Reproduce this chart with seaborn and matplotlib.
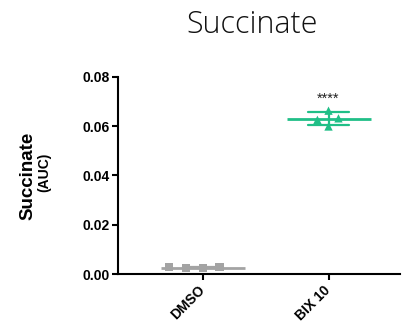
import matplotlib
matplotlib.use("Agg")
import matplotlib.pyplot as plt
import seaborn as sns
import pandas as pd

# 数据
groups = ["DMSO", "BIX 10"]
dmso_vals = [0.0025, 0.0029, 0.0026, 0.0028]
bix_vals = [0.0631, 0.0598, 0.0662, 0.0625]
colors = ["#A3A3A3", "#20BF87"]
stars = "****"

df = pd.DataFrame({
    "group": [groups[0]] * len(dmso_vals) + [groups[1]] * len(bix_vals),
    "val": dmso_vals + bix_vals,
})

sns.set_style("ticks")
plt.rcParams["font.family"] = ["Liberation Sans", "DejaVu Sans"]

fig = plt.figure(figsize=(4.03, 3.36), dpi=100)
ax = fig.add_axes([0.293, 0.184, 0.70, 0.588])

# 散点 (swarm 排布, 透明边框用来拉开间距)
for g, m, c, lw in zip(groups, ["s", "^"], colors, [5.5, 3]):
    sub = df[df.group == g]
    sns.swarmplot(data=sub, x="group", y="val", order=groups, marker=m,
                  color=c, size=6, linewidth=lw, edgecolor="none", ax=ax)

# 均值线 + SD
for g, c in zip(groups, colors):
    sub = df[df.group == g]
    sns.pointplot(data=sub, x="group", y="val", order=groups, errorbar="sd",
                  color=c, markers="_", markersize=60, markeredgewidth=2,
                  linestyle="none", capsize=0.32, err_kws={"linewidth": 1.6},
                  ax=ax)

ax.set_ylim(0, 0.08)
ax.set_xlim(-0.674, 1.57)
ax.set_yticks([0, 0.02, 0.04, 0.06, 0.08])
ax.set_yticklabels([f"{v:.2f}" for v in [0, 0.02, 0.04, 0.06, 0.08]],
                   fontsize=10, fontweight="bold", color="black")
ax.set_xticks(range(len(groups)))
ax.set_xticklabels(groups, rotation=45, ha="right", va="center",
                   rotation_mode="anchor", fontsize=10, fontweight="bold",
                   color="black")
ax.set_xlabel("")
ax.set_ylabel("")
ax.tick_params(width=1.5, length=4, color="black", pad=2)
ax.tick_params(axis="x", pad=6)
for s in ["left", "bottom"]:
    ax.spines[s].set_linewidth(1.5)
    ax.spines[s].set_color("black")
sns.despine(ax=ax)

ax.text(1, 0.068, stars, ha="center", va="bottom", fontsize=10.5,
        color="#222222")

fig.text(28 / 403, 0.478, "Succinate", rotation=90, ha="center", va="center",
         fontsize=13.5, fontweight="bold", color="black")
fig.text(44 / 403, 0.488, "(AUC)", rotation=90, ha="center", va="center",
         fontsize=10, fontweight="bold", color="black")

fig.text(252 / 403, 1 - 33 / 336, "Succinate", ha="center", va="baseline",
         fontsize=22, family=["Open Sans", "DejaVu Sans"], fontweight=300,
         color="#111111")

fig.savefig("out.png", dpi=100)
